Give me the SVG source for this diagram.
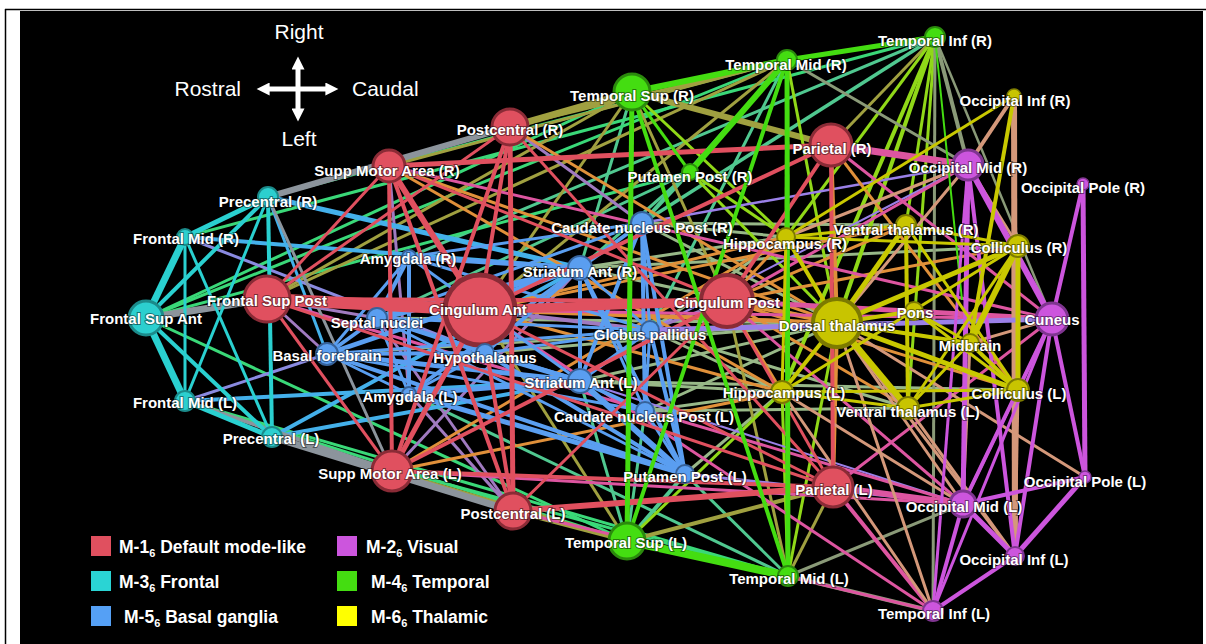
<svg xmlns="http://www.w3.org/2000/svg" width="1206" height="644" viewBox="0 0 1206 644">
<defs>
<style>
#edges line{fill:none}
.rr{stroke:#e0505f}.cc{stroke:#2ad0d0}.bb{stroke:#5a9ef0}.gg{stroke:#44dd11}.mm{stroke:#cc55dd}.yy{stroke:#c8c800}
.rc{stroke:#8c949c}.rb{stroke:#a07ac0}.rg{stroke:#a0a040}.rm{stroke:#dd55a0}.ry{stroke:#e0903a}.cb{stroke:#44b0ea}
.cg{stroke:#3ad878}.lv{stroke:#8a8ae0}.bg{stroke:#50c890}.bm{stroke:#9a80e8}.by{stroke:#98b888}.gy{stroke:#90d818}
.gm{stroke:#8a9a78}.my{stroke:#d4987a}
.nR{fill:#e0505f;stroke:#8a2b36}.nC{fill:#2ccfcf;stroke:#1b8a8a}.nB{fill:#5a9ef0;stroke:#36629a}
.nG{fill:#44dd11;stroke:#2b8a0d}.nM{fill:#cc55dd;stroke:#7f3590}.nY{fill:#c8c400;stroke:#7c7a00}
.lbl{font-family:"Liberation Sans",Arial,sans-serif;font-weight:bold;font-size:15px;fill:#fff;text-anchor:middle;stroke:#000;stroke-opacity:0.45;stroke-width:2px;paint-order:stroke}
.cmp{font-family:"Liberation Sans",Arial,sans-serif;font-size:21px;fill:#fff}
.leg{font-family:"Liberation Sans",Arial,sans-serif;font-weight:bold;font-size:17.5px;fill:#fff}
</style>
<marker id="ah" viewBox="0 0 10 10" refX="2" refY="5" markerWidth="17" markerHeight="13" markerUnits="userSpaceOnUse" orient="auto-start-reverse"><path d="M0,0 L10,5 L0,10 z" fill="#fff"/></marker>
</defs>
<rect x="0" y="0" width="1206" height="644" fill="#fff"/>
<rect x="20" y="11" width="1183" height="633" fill="#000"/>
<line x1="5" y1="9.5" x2="1206" y2="9.5" stroke="#000" stroke-width="1.5"/>
<line x1="5.5" y1="9" x2="5.5" y2="644" stroke="#000" stroke-width="1.5"/>

<g id="compass">
<text class="cmp" x="299" y="38.5" text-anchor="middle">Right</text>
<text class="cmp" x="241" y="95.5" text-anchor="end">Rostral</text>
<text class="cmp" x="352" y="95.5">Caudal</text>
<text class="cmp" x="299" y="145.5" text-anchor="middle">Left</text>
<line x1="267" y1="89" x2="328" y2="89" stroke="#fff" stroke-width="5" marker-start="url(#ah)" marker-end="url(#ah)"/>
<line x1="298" y1="67" x2="298" y2="111" stroke="#fff" stroke-width="5" marker-start="url(#ah)" marker-end="url(#ah)"/>
</g>

<g id="edges">
<!-- sage blue-yellow -->
<line class="by" stroke-width="3" x1="580" y1="268" x2="786" y2="237"/>
<line class="by" stroke-width="3" x1="580" y1="381" x2="782" y2="392"/>
<line class="by" stroke-width="4" x1="650" y1="330" x2="837" y2="323"/>
<line class="by" stroke-width="3" x1="642" y1="223" x2="837" y2="323"/>
<line class="by" stroke-width="3" x1="645" y1="411" x2="782" y2="392"/>
<line class="by" stroke-width="3" x1="645" y1="411" x2="908" y2="408"/>
<line class="by" stroke-width="3" x1="685" y1="474" x2="782" y2="392"/>
<line class="by" stroke-width="3" x1="580" y1="268" x2="837" y2="323"/>
<line class="by" stroke-width="3" x1="580" y1="381" x2="837" y2="323"/>
<line class="by" stroke-width="3" x1="650" y1="330" x2="786" y2="237"/>
<line class="by" stroke-width="3" x1="650" y1="330" x2="782" y2="392"/>
<line class="by" stroke-width="3" x1="485" y1="353" x2="837" y2="323"/>
<line class="by" stroke-width="3" x1="642" y1="223" x2="786" y2="237"/>
<line class="by" stroke-width="3" x1="642" y1="223" x2="906" y2="225"/>
<line class="by" stroke-width="3" x1="645" y1="411" x2="837" y2="323"/>
<line class="by" stroke-width="3" x1="580" y1="268" x2="1018" y2="246"/>
<line class="by" stroke-width="3" x1="580" y1="381" x2="1018" y2="390"/>
<line class="by" stroke-width="3" x1="650" y1="330" x2="908" y2="408"/>
<line class="by" stroke-width="3" x1="377" y1="318" x2="837" y2="323"/>
<line class="by" stroke-width="2.5" x1="327" y1="354" x2="837" y2="323"/>
<!-- teal blue-green -->
<line class="bg" stroke-width="4" x1="642" y1="223" x2="690" y2="172"/>
<line class="bg" stroke-width="3" x1="580" y1="268" x2="690" y2="172"/>
<line class="bg" stroke-width="3" x1="642" y1="223" x2="787" y2="60"/>
<line class="bg" stroke-width="3.5" x1="642" y1="223" x2="935" y2="37"/>
<line class="bg" stroke-width="4" x1="685" y1="474" x2="627" y2="541"/>
<line class="bg" stroke-width="3" x1="580" y1="268" x2="632" y2="92"/>
<line class="bg" stroke-width="3" x1="645" y1="411" x2="627" y2="541"/>
<line class="bg" stroke-width="3" x1="685" y1="474" x2="788" y2="576"/>
<line class="bg" stroke-width="3" x1="650" y1="330" x2="787" y2="60"/>
<line class="bg" stroke-width="3" x1="580" y1="381" x2="627" y2="541"/>
<line class="bg" stroke-width="3" x1="409" y1="257" x2="935" y2="37"/>
<line class="bg" stroke-width="3" x1="377" y1="318" x2="690" y2="172"/>
<line class="bg" stroke-width="3" x1="409" y1="394" x2="788" y2="576"/>
<!-- cyan-green -->
<line class="cg" stroke-width="3" x1="146" y1="318" x2="632" y2="92"/>
<line class="cg" stroke-width="3" x1="146" y1="318" x2="787" y2="60"/>
<line class="cg" stroke-width="3" x1="146" y1="318" x2="690" y2="172"/>
<line class="cg" stroke-width="3" x1="146" y1="318" x2="627" y2="541"/>
<line class="cg" stroke-width="3" x1="185" y1="401" x2="627" y2="541"/>
<line class="cg" stroke-width="3" x1="185" y1="401" x2="788" y2="576"/>
<line class="cg" stroke-width="3" x1="272" y1="437" x2="788" y2="576"/>
<line class="cg" stroke-width="3" x1="268" y1="197" x2="787" y2="60"/>
<line class="cg" stroke-width="3" x1="268" y1="197" x2="632" y2="92"/>
<line class="cg" stroke-width="3" x1="185" y1="237" x2="935" y2="37"/>
<!-- olive red-green -->
<line class="rg" stroke-width="3" x1="480" y1="310" x2="632" y2="92"/>
<line class="rg" stroke-width="3" x1="480" y1="310" x2="627" y2="541"/>
<line class="rg" stroke-width="3" x1="267" y1="299" x2="632" y2="92"/>
<line class="rg" stroke-width="3" x1="267" y1="299" x2="787" y2="60"/>
<line class="rg" stroke-width="3" x1="389" y1="166" x2="787" y2="60"/>
<line class="rg" stroke-width="3" x1="392" y1="471" x2="627" y2="541"/>
<line class="rg" stroke-width="3" x1="935" y1="37" x2="831" y2="145"/>
<line class="rg" stroke-width="3" x1="787" y1="60" x2="480" y2="310"/>
<line class="rg" stroke-width="3" x1="510" y1="127" x2="787" y2="60"/>
<line class="rg" stroke-width="3" x1="727" y1="301" x2="632" y2="92"/>
<line class="rg" stroke-width="3" x1="727" y1="301" x2="788" y2="576"/>
<line class="rg" stroke-width="3" x1="833" y1="487" x2="788" y2="576"/>
<line class="rg" stroke-width="4" x1="632" y1="92" x2="787" y2="60"/>
<line class="rg" stroke-width="7" x1="510" y1="127" x2="632" y2="92"/>
<line class="rg" stroke-width="6" x1="632" y1="92" x2="831" y2="145"/>
<line class="rg" stroke-width="4" x1="513" y1="511" x2="627" y2="541"/>
<line class="rg" stroke-width="4" x1="627" y1="541" x2="833" y2="487"/>
<!-- yellow-green -->
<line class="gy" stroke-width="4" x1="935" y1="37" x2="837" y2="323"/>
<line class="gy" stroke-width="4" x1="935" y1="37" x2="782" y2="392"/>
<line class="gy" stroke-width="3" x1="935" y1="37" x2="786" y2="237"/>
<line class="gy" stroke-width="3" x1="935" y1="37" x2="906" y2="225"/>
<line class="gy" stroke-width="3" x1="935" y1="37" x2="908" y2="408"/>
<line class="gy" stroke-width="3" x1="787" y1="60" x2="786" y2="237"/>
<line class="gy" stroke-width="3" x1="632" y1="92" x2="786" y2="237"/>
<line class="gy" stroke-width="3" x1="788" y1="576" x2="782" y2="392"/>
<line class="gy" stroke-width="3" x1="788" y1="576" x2="837" y2="323"/>
<line class="gy" stroke-width="3" x1="627" y1="541" x2="782" y2="392"/>
<line class="gy" stroke-width="3" x1="690" y1="172" x2="837" y2="323"/>
<line class="gy" stroke-width="3" x1="690" y1="172" x2="786" y2="237"/>
<line class="gy" stroke-width="3" x1="787" y1="60" x2="837" y2="323"/>
<!-- gray-green -->
<line class="gm" stroke-width="4" x1="935" y1="37" x2="968" y2="165"/>
<line class="gm" stroke-width="3" x1="935" y1="37" x2="933" y2="611"/>
<line class="gm" stroke-width="4" x1="788" y1="576" x2="933" y2="611"/>
<line class="gm" stroke-width="2.5" x1="935" y1="37" x2="1052" y2="319"/>
<line class="gm" stroke-width="3" x1="788" y1="576" x2="963" y2="504"/>
<line class="gm" stroke-width="3" x1="787" y1="60" x2="968" y2="165"/>
<!-- purple red-blue -->
<line class="rb" stroke-width="3" x1="510" y1="127" x2="642" y2="223"/>
<line class="rb" stroke-width="3" x1="392" y1="471" x2="580" y2="268"/>
<line class="rb" stroke-width="3" x1="513" y1="511" x2="377" y2="318"/>
<line class="rb" stroke-width="4" x1="480" y1="310" x2="650" y2="330"/>
<line class="rb" stroke-width="3" x1="267" y1="299" x2="327" y2="354"/>
<line class="rb" stroke-width="3" x1="267" y1="299" x2="377" y2="318"/>
<line class="rb" stroke-width="3" x1="727" y1="301" x2="650" y2="330"/>
<line class="rb" stroke-width="3" x1="513" y1="511" x2="409" y2="394"/>
<line class="rb" stroke-width="3" x1="389" y1="166" x2="409" y2="394"/>
<!-- lavender -->
<line class="lv" stroke-width="3" x1="185" y1="237" x2="485" y2="353"/>
<line class="lv" stroke-width="3" x1="185" y1="401" x2="327" y2="354"/>
<line class="bm" stroke-width="2.5" x1="642" y1="223" x2="968" y2="165"/>
<line class="bm" stroke-width="2" x1="650" y1="330" x2="968" y2="165"/>
<line class="bm" stroke-width="3" x1="685" y1="474" x2="963" y2="504"/>
<line class="bm" stroke-width="2" x1="580" y1="381" x2="963" y2="504"/>
<!-- light blue cyan-blue -->
<line class="cb" stroke-width="5" x1="268" y1="197" x2="580" y2="268"/>
<line class="cb" stroke-width="3" x1="268" y1="197" x2="327" y2="354"/>
<line class="cb" stroke-width="4" x1="185" y1="237" x2="580" y2="268"/>
<line class="cb" stroke-width="4" x1="185" y1="401" x2="580" y2="381"/>
<line class="cb" stroke-width="4" x1="272" y1="437" x2="580" y2="268"/>
<line class="cb" stroke-width="4" x1="272" y1="437" x2="580" y2="381"/>
<!-- orange red-yellow -->
<line class="ry" stroke-width="4" x1="480" y1="310" x2="837" y2="323"/>
<line class="ry" stroke-width="3" x1="480" y1="310" x2="786" y2="237"/>
<line class="ry" stroke-width="3" x1="480" y1="310" x2="782" y2="392"/>
<line class="ry" stroke-width="3" x1="389" y1="166" x2="782" y2="392"/>
<line class="ry" stroke-width="3" x1="389" y1="166" x2="837" y2="323"/>
<line class="ry" stroke-width="3" x1="392" y1="471" x2="782" y2="392"/>
<line class="ry" stroke-width="3" x1="392" y1="471" x2="786" y2="237"/>
<line class="ry" stroke-width="3" x1="510" y1="127" x2="837" y2="323"/>
<line class="ry" stroke-width="4" x1="831" y1="145" x2="837" y2="323"/>
<line class="ry" stroke-width="4" x1="833" y1="487" x2="837" y2="323"/>
<line class="ry" stroke-width="5" x1="727" y1="301" x2="837" y2="323"/>
<line class="ry" stroke-width="3" x1="727" y1="301" x2="786" y2="237"/>
<line class="ry" stroke-width="3" x1="727" y1="301" x2="782" y2="392"/>
<line class="ry" stroke-width="3" x1="727" y1="301" x2="1018" y2="246"/>
<line class="ry" stroke-width="3" x1="727" y1="301" x2="1018" y2="390"/>
<line class="ry" stroke-width="3" x1="727" y1="301" x2="906" y2="225"/>
<line class="ry" stroke-width="3" x1="727" y1="301" x2="908" y2="408"/>
<line class="ry" stroke-width="3" x1="267" y1="299" x2="837" y2="323"/>
<line class="ry" stroke-width="3" x1="831" y1="145" x2="1018" y2="390"/>
<line class="ry" stroke-width="3" x1="480" y1="310" x2="906" y2="225"/>
<!-- pink red-magenta -->
<line class="rm" stroke-width="7" x1="831" y1="145" x2="968" y2="165"/>
<line class="rm" stroke-width="6" x1="833" y1="487" x2="963" y2="504"/>
<line class="rm" stroke-width="4" x1="833" y1="487" x2="933" y2="611"/>
<line class="rm" stroke-width="5" x1="727" y1="301" x2="1052" y2="319"/>
<line class="rm" stroke-width="3" x1="727" y1="301" x2="968" y2="165"/>
<line class="rm" stroke-width="3" x1="727" y1="301" x2="963" y2="504"/>
<line class="rm" stroke-width="3" x1="389" y1="166" x2="1052" y2="319"/>
<line class="rm" stroke-width="3" x1="267" y1="299" x2="963" y2="504"/>
<line class="rm" stroke-width="3" x1="480" y1="310" x2="933" y2="611"/>
<line class="rm" stroke-width="3" x1="831" y1="145" x2="1052" y2="319"/>
<line class="rm" stroke-width="3" x1="480" y1="310" x2="1052" y2="319"/>
<line class="rm" stroke-width="3" x1="513" y1="511" x2="933" y2="611"/>
<line class="rm" stroke-width="3" x1="392" y1="471" x2="963" y2="504"/>
<line class="rm" stroke-width="3" x1="833" y1="487" x2="1052" y2="319"/>
<!-- tan magenta-yellow -->
<line class="my" stroke-width="4" x1="1014" y1="96" x2="968" y2="165"/>
<line class="my" stroke-width="3" x1="1052" y1="319" x2="1018" y2="390"/>
<line class="my" stroke-width="3" x1="1052" y1="319" x2="970" y2="343"/>
<line class="my" stroke-width="3" x1="968" y1="165" x2="1018" y2="246"/>
<line class="my" stroke-width="3" x1="963" y1="504" x2="1018" y2="390"/>
<line class="my" stroke-width="3" x1="933" y1="611" x2="837" y2="323"/>
<line class="my" stroke-width="3" x1="933" y1="611" x2="782" y2="392"/>
<line class="my" stroke-width="3" x1="1015" y1="556" x2="1018" y2="390"/>
<line class="my" stroke-width="3" x1="968" y1="165" x2="837" y2="323"/>
<line class="my" stroke-width="3" x1="963" y1="504" x2="837" y2="323"/>
<line class="my" stroke-width="3" x1="1085" y1="477" x2="837" y2="323"/>
<line class="my" stroke-width="3" x1="963" y1="504" x2="970" y2="343"/>
<line class="my" stroke-width="3" x1="1015" y1="556" x2="837" y2="323"/>
<line class="my" stroke-width="3" x1="968" y1="165" x2="786" y2="237"/>
<line class="my" stroke-width="3" x1="963" y1="504" x2="782" y2="392"/>
<line class="my" stroke-width="3" x1="1015" y1="556" x2="908" y2="408"/>
<line class="my" stroke-width="6" x1="1014" y1="96" x2="1015" y2="556"/>
<!-- gray red-cyan -->
<line class="rc" stroke-width="7" x1="146" y1="318" x2="267" y2="299"/>
<line class="rc" stroke-width="6" x1="268" y1="197" x2="510" y2="127"/>
<line class="rc" stroke-width="7" x1="272" y1="437" x2="513" y2="511"/>
<line class="rc" stroke-width="3" x1="268" y1="197" x2="392" y2="471"/>
<line class="rc" stroke-width="4" x1="185" y1="401" x2="392" y2="471"/>
<!-- cyan -->
<line class="cc" stroke-width="7" x1="146" y1="318" x2="185" y2="237"/>
<line class="cc" stroke-width="7" x1="146" y1="318" x2="185" y2="401"/>
<line class="cc" stroke-width="4" x1="146" y1="318" x2="268" y2="197"/>
<line class="cc" stroke-width="4" x1="146" y1="318" x2="272" y2="437"/>
<line class="cc" stroke-width="3" x1="185" y1="237" x2="185" y2="401"/>
<line class="cc" stroke-width="5" x1="185" y1="237" x2="268" y2="197"/>
<line class="cc" stroke-width="5" x1="185" y1="401" x2="272" y2="437"/>
<line class="cc" stroke-width="4" x1="268" y1="197" x2="272" y2="437"/>
<line class="cc" stroke-width="3" x1="185" y1="237" x2="272" y2="437"/>
<line class="cc" stroke-width="3" x1="185" y1="401" x2="268" y2="197"/>
<!-- blue -->
<line class="bb" stroke-width="7" x1="580" y1="268" x2="377" y2="318"/>
<line class="bb" stroke-width="5" x1="580" y1="268" x2="327" y2="354"/>
<line class="bb" stroke-width="5" x1="580" y1="268" x2="409" y2="257"/>
<line class="bb" stroke-width="4" x1="580" y1="268" x2="409" y2="394"/>
<line class="bb" stroke-width="4" x1="580" y1="268" x2="642" y2="223"/>
<line class="bb" stroke-width="4" x1="580" y1="268" x2="580" y2="381"/>
<line class="bb" stroke-width="3" x1="580" y1="268" x2="650" y2="330"/>
<line class="bb" stroke-width="4" x1="580" y1="268" x2="485" y2="353"/>
<line class="bb" stroke-width="4" x1="580" y1="268" x2="685" y2="474"/>
<line class="bb" stroke-width="3" x1="580" y1="268" x2="645" y2="411"/>
<line class="bb" stroke-width="5" x1="580" y1="381" x2="327" y2="354"/>
<line class="bb" stroke-width="4" x1="580" y1="381" x2="377" y2="318"/>
<line class="bb" stroke-width="5" x1="580" y1="381" x2="409" y2="394"/>
<line class="bb" stroke-width="3" x1="580" y1="381" x2="409" y2="257"/>
<line class="bb" stroke-width="4" x1="580" y1="381" x2="645" y2="411"/>
<line class="bb" stroke-width="6" x1="580" y1="381" x2="685" y2="474"/>
<line class="bb" stroke-width="4" x1="580" y1="381" x2="642" y2="223"/>
<line class="bb" stroke-width="4" x1="580" y1="381" x2="650" y2="330"/>
<line class="bb" stroke-width="5" x1="580" y1="381" x2="485" y2="353"/>
<line class="bb" stroke-width="4" x1="642" y1="223" x2="685" y2="474"/>
<line class="bb" stroke-width="4" x1="642" y1="223" x2="645" y2="411"/>
<line class="bb" stroke-width="3" x1="642" y1="223" x2="650" y2="330"/>
<line class="bb" stroke-width="3" x1="642" y1="223" x2="409" y2="257"/>
<line class="bb" stroke-width="4" x1="650" y1="330" x2="685" y2="474"/>
<line class="bb" stroke-width="3" x1="650" y1="330" x2="327" y2="354"/>
<line class="bb" stroke-width="3" x1="650" y1="330" x2="377" y2="318"/>
<line class="bb" stroke-width="3" x1="650" y1="330" x2="485" y2="353"/>
<line class="bb" stroke-width="3" x1="650" y1="330" x2="645" y2="411"/>
<line class="bb" stroke-width="4" x1="485" y1="353" x2="377" y2="318"/>
<line class="bb" stroke-width="4" x1="485" y1="353" x2="327" y2="354"/>
<line class="bb" stroke-width="3" x1="485" y1="353" x2="409" y2="394"/>
<line class="bb" stroke-width="4" x1="485" y1="353" x2="685" y2="474"/>
<line class="bb" stroke-width="4" x1="327" y1="354" x2="377" y2="318"/>
<line class="bb" stroke-width="3" x1="327" y1="354" x2="409" y2="257"/>
<line class="bb" stroke-width="3" x1="327" y1="354" x2="409" y2="394"/>
<line class="bb" stroke-width="4" x1="327" y1="354" x2="685" y2="474"/>
<line class="bb" stroke-width="3" x1="327" y1="354" x2="645" y2="411"/>
<line class="bb" stroke-width="4" x1="377" y1="318" x2="409" y2="257"/>
<line class="bb" stroke-width="3" x1="377" y1="318" x2="409" y2="394"/>
<line class="bb" stroke-width="3" x1="377" y1="318" x2="685" y2="474"/>
<line class="bb" stroke-width="4" x1="409" y1="257" x2="409" y2="394"/>
<line class="bb" stroke-width="5" x1="409" y1="394" x2="685" y2="474"/>
<line class="bb" stroke-width="3" x1="645" y1="411" x2="685" y2="474"/>
<line class="bb" stroke-width="3" x1="377" y1="318" x2="642" y2="223"/>
<line class="bb" stroke-width="3" x1="409" y1="257" x2="650" y2="330"/>
<!-- red -->
<line class="rr" stroke-width="4" x1="480" y1="310" x2="510" y2="127"/>
<line class="rr" stroke-width="4" x1="480" y1="310" x2="513" y2="511"/>
<line class="rr" stroke-width="4" x1="480" y1="310" x2="831" y2="145"/>
<line class="rr" stroke-width="3" x1="480" y1="310" x2="833" y2="487"/>
<line class="rr" stroke-width="5" x1="389" y1="166" x2="831" y2="145"/>
<line class="rr" stroke-width="4" x1="389" y1="166" x2="513" y2="511"/>
<line class="rr" stroke-width="4" x1="389" y1="166" x2="392" y2="471"/>
<line class="rr" stroke-width="3" x1="389" y1="166" x2="727" y2="301"/>
<line class="rr" stroke-width="4" x1="392" y1="471" x2="510" y2="127"/>
<line class="rr" stroke-width="4" x1="392" y1="471" x2="833" y2="487"/>
<line class="rr" stroke-width="4" x1="392" y1="471" x2="727" y2="301"/>
<line class="rr" stroke-width="5" x1="510" y1="127" x2="513" y2="511"/>
<line class="rr" stroke-width="6" x1="513" y1="511" x2="833" y2="487"/>
<line class="rr" stroke-width="3" x1="513" y1="511" x2="727" y2="301"/>
<line class="rr" stroke-width="4" x1="831" y1="145" x2="833" y2="487"/>
<line class="rr" stroke-width="4" x1="831" y1="145" x2="727" y2="301"/>
<line class="rr" stroke-width="3" x1="833" y1="487" x2="727" y2="301"/>
<line class="rr" stroke-width="4" x1="267" y1="299" x2="727" y2="301"/>
<line class="rr" stroke-width="3" x1="267" y1="299" x2="510" y2="127"/>
<line class="rr" stroke-width="3" x1="267" y1="299" x2="833" y2="487"/>
<line class="rr" stroke-width="3" x1="267" y1="299" x2="389" y2="166"/>
<line class="rr" stroke-width="3" x1="267" y1="299" x2="392" y2="471"/>
<line class="rr" stroke-width="3" x1="510" y1="127" x2="833" y2="487"/>
<line class="rr" stroke-width="6" x1="480" y1="310" x2="389" y2="166"/>
<line class="rr" stroke-width="5" x1="480" y1="310" x2="392" y2="471"/>
<line class="rr" stroke-width="9" x1="480" y1="310" x2="727" y2="301"/>
<line class="rr" stroke-width="12" x1="480" y1="310" x2="267" y2="299"/>
<!-- lavender thick -->
<line class="bm" stroke-width="5" x1="650" y1="330" x2="1052" y2="319"/>
<!-- green -->
<line class="gg" stroke-width="6" x1="632" y1="92" x2="787" y2="60"/>
<line class="gg" stroke-width="5" x1="787" y1="60" x2="935" y2="37"/>
<line class="gg" stroke-width="5" x1="632" y1="92" x2="627" y2="541"/>
<line class="gg" stroke-width="5" x1="787" y1="60" x2="788" y2="576"/>
<line class="gg" stroke-width="6" x1="787" y1="60" x2="690" y2="172"/>
<line class="gg" stroke-width="4" x1="632" y1="92" x2="788" y2="576"/>
<line class="gg" stroke-width="4" x1="787" y1="60" x2="627" y2="541"/>
<line class="gg" stroke-width="8" x1="627" y1="541" x2="788" y2="576"/>
<line class="gg" stroke-width="3" x1="632" y1="92" x2="690" y2="172"/>
<line class="gg" stroke-width="2" x1="935" y1="37" x2="962" y2="300"/>
<!-- magenta -->
<line class="mm" stroke-width="6" x1="968" y1="165" x2="1052" y2="319"/>
<line class="mm" stroke-width="5" x1="968" y1="165" x2="963" y2="504"/>
<line class="mm" stroke-width="4" x1="968" y1="165" x2="1015" y2="556"/>
<line class="mm" stroke-width="4" x1="1083" y1="184" x2="1052" y2="319"/>
<line class="mm" stroke-width="5" x1="1083" y1="184" x2="1085" y2="477"/>
<line class="mm" stroke-width="4" x1="1052" y1="319" x2="963" y2="504"/>
<line class="mm" stroke-width="4" x1="1052" y1="319" x2="1015" y2="556"/>
<line class="mm" stroke-width="4" x1="1052" y1="319" x2="1085" y2="477"/>
<line class="mm" stroke-width="3" x1="1052" y1="319" x2="933" y2="611"/>
<line class="mm" stroke-width="5" x1="963" y1="504" x2="1015" y2="556"/>
<line class="mm" stroke-width="4" x1="963" y1="504" x2="933" y2="611"/>
<line class="mm" stroke-width="4" x1="963" y1="504" x2="1085" y2="477"/>
<line class="mm" stroke-width="4" x1="1015" y1="556" x2="933" y2="611"/>
<line class="mm" stroke-width="5" x1="1015" y1="556" x2="1085" y2="477"/>
<line class="mm" stroke-width="3" x1="968" y1="165" x2="933" y2="611"/>
<!-- yellow -->
<line class="yy" stroke-width="5" x1="837" y1="323" x2="906" y2="225"/>
<line class="yy" stroke-width="6" x1="837" y1="323" x2="908" y2="408"/>
<line class="yy" stroke-width="5" x1="837" y1="323" x2="1018" y2="246"/>
<line class="yy" stroke-width="5" x1="837" y1="323" x2="1018" y2="390"/>
<line class="yy" stroke-width="4" x1="837" y1="323" x2="914" y2="311"/>
<line class="yy" stroke-width="4" x1="837" y1="323" x2="970" y2="343"/>
<line class="yy" stroke-width="4" x1="837" y1="323" x2="786" y2="237"/>
<line class="yy" stroke-width="4" x1="837" y1="323" x2="782" y2="392"/>
<line class="yy" stroke-width="3" x1="1014" y1="96" x2="786" y2="237"/>
<line class="yy" stroke-width="4" x1="1014" y1="96" x2="970" y2="343"/>
<line class="yy" stroke-width="5" x1="1018" y1="246" x2="1018" y2="390"/>
<line class="yy" stroke-width="6" x1="1018" y1="246" x2="970" y2="343"/>
<line class="yy" stroke-width="3" x1="1018" y1="246" x2="906" y2="225"/>
<line class="yy" stroke-width="3" x1="1018" y1="246" x2="786" y2="237"/>
<line class="yy" stroke-width="4" x1="1018" y1="390" x2="970" y2="343"/>
<line class="yy" stroke-width="3" x1="1018" y1="390" x2="908" y2="408"/>
<line class="yy" stroke-width="3" x1="1018" y1="390" x2="782" y2="392"/>
<line class="yy" stroke-width="4" x1="906" y1="225" x2="908" y2="408"/>
<line class="yy" stroke-width="3" x1="906" y1="225" x2="786" y2="237"/>
<line class="yy" stroke-width="3" x1="908" y1="408" x2="782" y2="392"/>
<line class="yy" stroke-width="3" x1="786" y1="237" x2="782" y2="392"/>
<line class="yy" stroke-width="3" x1="914" y1="311" x2="970" y2="343"/>
<line class="yy" stroke-width="3" x1="1018" y1="246" x2="908" y2="408"/>
<line class="yy" stroke-width="3" x1="1018" y1="390" x2="906" y2="225"/>
<line class="yy" stroke-width="3" x1="914" y1="311" x2="1018" y2="390"/>
<line class="yy" stroke-width="3" x1="970" y1="343" x2="908" y2="408"/>
<line class="yy" stroke-width="3" x1="782" y1="392" x2="1018" y2="246"/>
</g>

<g id="nodes">
<g id="n-cingulum-ant"><circle class="nR" cx="480" cy="310" r="35" stroke-width="5"/><text class="lbl" x="478" y="315">Cingulum Ant</text></g>
<g id="n-cingulum-post"><circle class="nR" cx="727" cy="301" r="26" stroke-width="4"/><text class="lbl" x="727" y="308">Cingulum Post</text></g>
<g id="n-dorsal-thalamus"><circle class="nY" cx="837" cy="323" r="24" stroke-width="4"/><text class="lbl" x="837" y="331">Dorsal thalamus</text></g>
<g id="n-frontal-sup-post"><circle class="nR" cx="267" cy="299" r="23" stroke-width="3"/><text class="lbl" x="267" y="306">Frontal Sup Post</text></g>
<g id="n-parietal-r"><circle class="nR" cx="831" cy="145" r="21" stroke-width="3"/><text class="lbl" x="832" y="154">Parietal (R)</text></g>
<g id="n-parietal-l"><circle class="nR" cx="833" cy="487" r="20" stroke-width="3"/><text class="lbl" x="834" y="495">Parietal (L)</text></g>
<g id="n-supp-motor-l"><circle class="nR" cx="392" cy="471" r="20" stroke-width="3"/><text class="lbl" x="390" y="479">Supp Motor Area (L)</text></g>
<g id="n-postcentral-r"><circle class="nR" cx="510" cy="127" r="18" stroke-width="3"/><text class="lbl" x="510" y="135">Postcentral (R)</text></g>
<g id="n-postcentral-l"><circle class="nR" cx="513" cy="511" r="18" stroke-width="3"/><text class="lbl" x="513" y="519">Postcentral (L)</text></g>
<g id="n-temporal-sup-r"><circle class="nG" cx="632" cy="92" r="18" stroke-width="3"/><text class="lbl" x="632" y="101">Temporal Sup (R)</text></g>
<g id="n-temporal-sup-l"><circle class="nG" cx="627" cy="541" r="18" stroke-width="3"/><text class="lbl" x="626" y="548">Temporal Sup (L)</text></g>
<g id="n-frontal-sup-ant"><circle class="nC" cx="146" cy="318" r="17" stroke-width="3"/><text class="lbl" x="146" y="324">Frontal Sup Ant</text></g>
<g id="n-supp-motor-r"><circle class="nR" cx="389" cy="166" r="16" stroke-width="3"/><text class="lbl" x="387" y="176">Supp Motor Area (R)</text></g>
<g id="n-cuneus"><circle class="nM" cx="1052" cy="319" r="16" stroke-width="3"/><text class="lbl" x="1052" y="325">Cuneus</text></g>
<g id="n-occipital-mid-r"><circle class="nM" cx="968" cy="165" r="15" stroke-width="3"/><text class="lbl" x="968" y="173">Occipital Mid (R)</text></g>
<g id="n-occipital-mid-l"><circle class="nM" cx="963" cy="504" r="13" stroke-width="3"/><text class="lbl" x="964" y="512">Occipital Mid (L)</text></g>
<g id="n-striatum-ant-r"><circle class="nB" cx="580" cy="268" r="12" stroke-width="2"/><text class="lbl" x="580" y="277">Striatum Ant (R)</text></g>
<g id="n-striatum-ant-l"><circle class="nB" cx="580" cy="381" r="12" stroke-width="2"/><text class="lbl" x="581" y="388">Striatum Ant (L)</text></g>
<g id="n-caudate-r"><circle class="nB" cx="642" cy="223" r="11" stroke-width="2"/><text class="lbl" x="642" y="233">Caudate nucleus Post (R)</text></g>
<g id="n-caudate-l"><circle class="nB" cx="645" cy="411" r="9" stroke-width="2"/><text class="lbl" x="644" y="422">Caudate nucleus Post (L)</text></g>
<g id="n-globus-pallidus"><circle class="nB" cx="650" cy="330" r="9" stroke-width="2"/><text class="lbl" x="650" y="340">Globus pallidus</text></g>
<g id="n-hypothalamus"><circle class="nB" cx="485" cy="353" r="9" stroke-width="2"/><text class="lbl" x="485" y="363">Hypothalamus</text></g>
<g id="n-basal-forebrain"><circle class="nB" cx="327" cy="354" r="11" stroke-width="2"/><text class="lbl" x="327" y="361">Basal forebrain</text></g>
<g id="n-septal-nuclei"><circle class="nB" cx="377" cy="318" r="10" stroke-width="2"/><text class="lbl" x="377" y="328">Septal nuclei</text></g>
<g id="n-amygdala-r"><circle class="nB" cx="409" cy="257" r="7" stroke-width="2"/><text class="lbl" x="408" y="264">Amygdala (R)</text></g>
<g id="n-amygdala-l"><circle class="nB" cx="409" cy="394" r="7" stroke-width="2"/><text class="lbl" x="410" y="402">Amygdala (L)</text></g>
<g id="n-putamen-post-l"><circle class="nB" cx="685" cy="474" r="9" stroke-width="2"/><text class="lbl" x="685" y="482">Putamen Post (L)</text></g>
<g id="n-putamen-post-r"><circle class="nG" cx="690" cy="172" r="8" stroke-width="2"/><text class="lbl" x="690" y="182">Putamen Post (R)</text></g>
<g id="n-temporal-mid-r"><circle class="nG" cx="787" cy="60" r="10" stroke-width="2"/><text class="lbl" x="786" y="70">Temporal Mid (R)</text></g>
<g id="n-temporal-inf-r"><circle class="nG" cx="935" cy="37" r="10" stroke-width="2"/><text class="lbl" x="935" y="46">Temporal Inf (R)</text></g>
<g id="n-temporal-mid-l"><circle class="nG" cx="788" cy="576" r="10" stroke-width="2"/><text class="lbl" x="789" y="584">Temporal Mid (L)</text></g>
<g id="n-temporal-inf-l"><circle class="nM" cx="933" cy="611" r="10" stroke-width="2"/><text class="lbl" x="934" y="619">Temporal Inf (L)</text></g>
<g id="n-occipital-inf-l"><circle class="nM" cx="1015" cy="556" r="9" stroke-width="2"/><text class="lbl" x="1014" y="565">Occipital Inf (L)</text></g>
<g id="n-occipital-pole-r"><circle class="nM" cx="1083" cy="184" r="6" stroke-width="1.5"/><text class="lbl" x="1083" y="193">Occipital Pole (R)</text></g>
<g id="n-occipital-pole-l"><circle class="nM" cx="1085" cy="477" r="6" stroke-width="1.5"/><text class="lbl" x="1085" y="487">Occipital Pole (L)</text></g>
<g id="n-occipital-inf-r"><circle class="nY" cx="1014" cy="96" r="7" stroke-width="1.5"/><text class="lbl" x="1015" y="106">Occipital Inf (R)</text></g>
<g id="n-ventral-thalamus-r"><circle class="nY" cx="906" cy="225" r="10" stroke-width="2"/><text class="lbl" x="906" y="235">Ventral thalamus (R)</text></g>
<g id="n-ventral-thalamus-l"><circle class="nY" cx="908" cy="408" r="11" stroke-width="2"/><text class="lbl" x="908" y="417">Ventral thalamus (L)</text></g>
<g id="n-colliculus-r"><circle class="nY" cx="1018" cy="246" r="11" stroke-width="2"/><text class="lbl" x="1019" y="253">Colliculus (R)</text></g>
<g id="n-colliculus-l"><circle class="nY" cx="1018" cy="390" r="11" stroke-width="2"/><text class="lbl" x="1019" y="399">Colliculus (L)</text></g>
<g id="n-pons"><circle class="nY" cx="914" cy="311" r="9" stroke-width="2"/><text class="lbl" x="915" y="318">Pons</text></g>
<g id="n-midbrain"><circle class="nY" cx="970" cy="343" r="9" stroke-width="2"/><text class="lbl" x="970" y="351">Midbrain</text></g>
<g id="n-hippocampus-r"><circle class="nY" cx="786" cy="237" r="9" stroke-width="2"/><text class="lbl" x="785" y="249">Hippocampus (R)</text></g>
<g id="n-hippocampus-l"><circle class="nY" cx="782" cy="392" r="11" stroke-width="2"/><text class="lbl" x="784" y="398">Hippocampus (L)</text></g>
<g id="n-precentral-r"><circle class="nC" cx="268" cy="197" r="10" stroke-width="2"/><text class="lbl" x="268" y="207">Precentral (R)</text></g>
<g id="n-precentral-l"><circle class="nC" cx="272" cy="437" r="10" stroke-width="2"/><text class="lbl" x="271" y="444">Precentral (L)</text></g>
<g id="n-frontal-mid-r"><circle class="nC" cx="185" cy="237" r="8" stroke-width="2"/><text class="lbl" x="186" y="244">Frontal Mid (R)</text></g>
<g id="n-frontal-mid-l"><circle class="nC" cx="185" cy="401" r="10" stroke-width="2"/><text class="lbl" x="185" y="408">Frontal Mid (L)</text></g>
</g>

<g id="legend">
<rect x="91" y="536" width="20" height="20" fill="#e0505f"/>
<text class="leg" x="119" y="553">M-1<tspan font-size="11" dy="4">6</tspan><tspan dy="-4"> Default mode-like</tspan></text>
<rect x="91" y="571" width="20" height="20" fill="#2ad4d4"/>
<text class="leg" x="119" y="588">M-3<tspan font-size="11" dy="4">6</tspan><tspan dy="-4"> Frontal</tspan></text>
<rect x="91" y="606" width="20" height="20" fill="#55a0f5"/>
<text class="leg" x="124" y="623">M-5<tspan font-size="11" dy="4">6</tspan><tspan dy="-4"> Basal ganglia</tspan></text>
<rect x="337" y="536" width="20" height="20" fill="#cc55dd"/>
<text class="leg" x="366" y="553">M-2<tspan font-size="11" dy="4">6</tspan><tspan dy="-4"> Visual</tspan></text>
<rect x="337" y="571" width="20" height="20" fill="#44dd11"/>
<text class="leg" x="371" y="588">M-4<tspan font-size="11" dy="4">6</tspan><tspan dy="-4"> Temporal</tspan></text>
<rect x="337" y="606" width="20" height="20" fill="#ffff00"/>
<text class="leg" x="371" y="623">M-6<tspan font-size="11" dy="4">6</tspan><tspan dy="-4"> Thalamic</tspan></text>
</g>
</svg>
